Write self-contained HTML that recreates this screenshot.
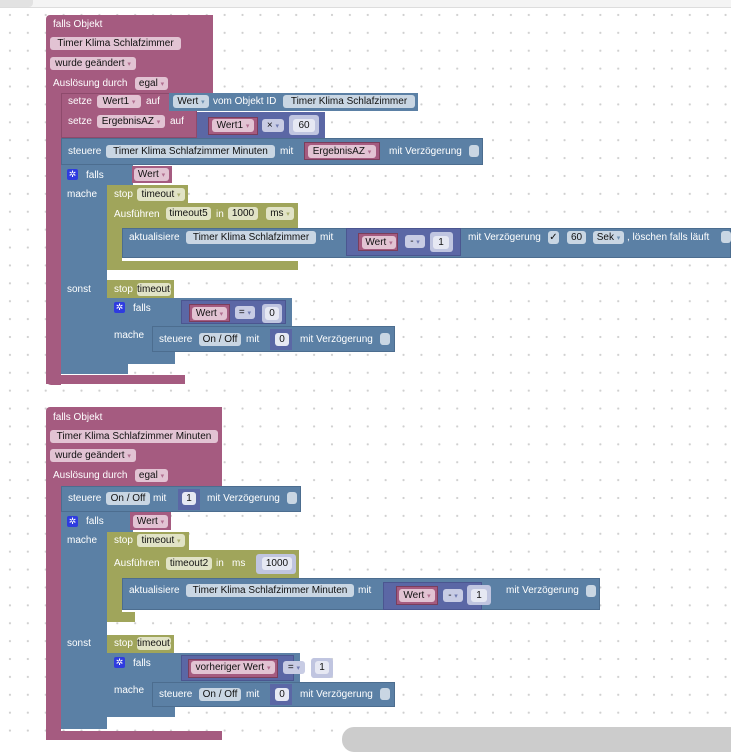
<!DOCTYPE html>
<html><head><meta charset="utf-8"><style>
body{margin:0;width:731px;height:745px;overflow:hidden;background:#fff;position:relative;font-family:"Liberation Sans",sans-serif}
#grid{position:absolute;left:0;top:8px;width:731px;height:737px;background-image:radial-gradient(circle,#cfcfcf 0.9px,transparent 1.3px);background-size:17.9px 17.9px;background-position:1px -2px}
.b{position:absolute}
.P{background:#a55b80}.B{background:#5b80a5}.G{background:#a0a55b}.M{background:#5b67a5}
.t{position:absolute;color:#fff;font-size:10px;line-height:13px;white-space:nowrap}
.f{position:absolute;border-radius:3px;height:13px;font-size:10px;line-height:13px;color:#111;padding:0 2px;white-space:nowrap;box-sizing:border-box;text-align:center}
.fp{background:#e2c3d3}.fb{background:#c9d6e3}.fg{background:#e1e3c6}.fm{background:#c8cce4}.fw{background:#e6e8f3}
.cb{position:absolute;width:10px;height:12px;border-radius:3px;background:#c9d6e3}
.gear{position:absolute;width:11px;height:11px;background:#2e3be0;border-radius:2px;color:#fff;font-size:9px;line-height:11px;text-align:center}
.dd{font-size:7px;opacity:.8}
</style></head><body>
<div id="grid"></div>
<div class="b" style="left:0;top:0;width:731px;height:7px;background:#f4f4f4;border-bottom:1px solid #ddd"></div>
<div class="b" style="left:0;top:0;width:33px;height:7px;background:#e2e2e2;border-radius:0 0 4px 0"></div>

<!-- BLOCK 1 -->
<div class="b P" style="left:46px;top:15px;width:167px;height:78px;border-radius:4px 0 0 0"></div>
<div class="b P" style="left:46px;top:90px;width:15px;height:295px;border-radius:0 0 0 5px"></div>
<div class="b P" style="left:46px;top:375px;width:139px;height:9px"></div>
<div class="t" style="left:53px;top:18px">falls Objekt</div>
<div class="f fp" style="left:50px;top:37px;width:131px">Timer Klima Schlafzimmer</div>
<div class="f fp" style="left:50px;top:57px;width:86px">wurde geändert <span class="dd" style="color:#a55b80">▾</span></div>
<div class="t" style="left:53px;top:77px">Auslösung durch</div>
<div class="f fp" style="left:135px;top:77px;width:33px">egal <span class="dd" style="color:#a55b80">▾</span></div>

<div class="b P" style="left:61px;top:93px;width:136px;height:45px;border:1px solid #8e4a6c;box-sizing:border-box"></div>
<div class="t" style="left:68px;top:95px">setze</div>
<div class="f fp" style="left:97px;top:95px;width:44px">Wert1 <span class="dd" style="color:#a55b80">▾</span></div>
<div class="t" style="left:146px;top:95px">auf</div>
<div class="b B" style="left:169px;top:93px;width:249px;height:18px"></div>
<div class="f fb" style="left:173px;top:95px;width:36px">Wert <span class="dd" style="color:#5b80a5">▾</span></div>
<div class="t" style="left:213px;top:95px">vom Objekt ID</div>
<div class="f fb" style="left:283px;top:95px;width:132px">Timer Klima Schlafzimmer</div>
<div class="t" style="left:68px;top:115px">setze</div>
<div class="f fp" style="left:97px;top:115px;width:68px">ErgebnisAZ <span class="dd" style="color:#a55b80">▾</span></div>
<div class="t" style="left:170px;top:115px">auf</div>
<div class="b M" style="left:197px;top:112px;width:128px;height:26px"></div>
<div class="b P" style="left:208px;top:117px;width:50px;height:18px;border:1px solid #7a3e5c;box-sizing:border-box"></div>
<div class="f fp" style="left:212px;top:119px;width:42px">Wert1 <span class="dd" style="color:#a55b80">▾</span></div>
<div class="f fm" style="left:262px;top:119px;width:22px">× <span class="dd" style="color:#5b67a5">▾</span></div>
<div class="b" style="left:289px;top:115px;width:30px;height:20px;background:#c0c5e0;border-radius:3px"></div>
<div class="f fw" style="left:293px;top:119px;width:22px">60</div>

<div class="b B" style="left:61px;top:138px;width:422px;height:27px;border:1px solid #4c6d8f;box-sizing:border-box"></div>
<div class="t" style="left:68px;top:145px">steuere</div>
<div class="f fb" style="left:106px;top:145px;width:169px">Timer Klima Schlafzimmer Minuten</div>
<div class="t" style="left:280px;top:145px">mit</div>
<div class="b P" style="left:304px;top:142px;width:76px;height:18px;border:1px solid #7a3e5c;box-sizing:border-box"></div>
<div class="f fp" style="left:308px;top:145px;width:68px">ErgebnisAZ <span class="dd" style="color:#a55b80">▾</span></div>
<div class="t" style="left:389px;top:145px">mit Verzögerung</div>
<div class="cb" style="left:469px;top:145px"></div>

<div class="b B" style="left:61px;top:165px;width:72px;height:20px"></div>
<div class="b B" style="left:61px;top:183px;width:46px;height:180px"></div>
<div class="b B" style="left:61px;top:358px;width:67px;height:16px"></div>
<div class="gear" style="left:67px;top:169px">✲</div>
<div class="t" style="left:86px;top:169px">falls</div>
<div class="b P" style="left:132px;top:166px;width:40px;height:17px"></div>
<div class="f fp" style="left:134px;top:168px;width:35px">Wert <span class="dd" style="color:#a55b80">▾</span></div>
<div class="t" style="left:67px;top:188px">mache</div>

<div class="b G" style="left:107px;top:185px;width:81px;height:18px"></div>
<div class="t" style="left:114px;top:188px">stop</div>
<div class="f fg" style="left:137px;top:188px;width:48px">timeout <span class="dd" style="color:#a0a55b">▾</span></div>
<div class="b G" style="left:107px;top:203px;width:191px;height:27px"></div>
<div class="b G" style="left:107px;top:228px;width:15px;height:40px"></div>
<div class="b G" style="left:107px;top:261px;width:191px;height:9px"></div>
<div class="t" style="left:114px;top:208px">Ausführen</div>
<div class="f fg" style="left:166px;top:207px;width:45px">timeout5</div>
<div class="t" style="left:216px;top:208px">in</div>
<div class="f fg" style="left:228px;top:207px;width:30px">1000</div>
<div class="f fg" style="left:266px;top:207px;width:28px">ms <span class="dd" style="color:#a0a55b">▾</span></div>
<div class="b B" style="left:122px;top:228px;width:609px;height:30px;border:1px solid #4c6d8f;box-sizing:border-box"></div>
<div class="t" style="left:129px;top:231px">aktualisiere</div>
<div class="f fb" style="left:186px;top:231px;width:130px">Timer Klima Schlafzimmer</div>
<div class="t" style="left:320px;top:231px">mit</div>
<div class="b M" style="left:346px;top:228px;width:115px;height:28px;border:1px solid #4b5690;box-sizing:border-box"></div>
<div class="b P" style="left:358px;top:233px;width:40px;height:18px;border:1px solid #7a3e5c;box-sizing:border-box"></div>
<div class="f fp" style="left:362px;top:236px;width:34px">Wert <span class="dd" style="color:#a55b80">▾</span></div>
<div class="f fm" style="left:405px;top:235px;width:20px">- <span class="dd" style="color:#5b67a5">▾</span></div>
<div class="b" style="left:430px;top:232px;width:23px;height:20px;background:#c0c5e0;border-radius:3px"></div>
<div class="f fw" style="left:433px;top:236px;width:16px">1</div>
<div class="t" style="left:468px;top:231px">mit Verzögerung</div>
<div class="f fb" style="left:548px;top:231px;width:11px;padding:0">✓</div>
<div class="f fb" style="left:567px;top:231px;width:19px">60</div>
<div class="f fb" style="left:593px;top:231px;width:31px">Sek <span class="dd" style="color:#5b80a5">▾</span></div>
<div class="t" style="left:627px;top:231px">, löschen falls läuft</div>
<div class="cb" style="left:721px;top:231px"></div>

<div class="t" style="left:67px;top:283px">sonst</div>
<div class="b G" style="left:107px;top:280px;width:67px;height:18px"></div>
<div class="t" style="left:114px;top:283px">stop</div>
<div class="f fg" style="left:137px;top:283px;width:34px;padding:0">timeout<span class="dd" style="color:#a0a55b">▾</span></div>
<div class="b B" style="left:107px;top:298px;width:185px;height:28px"></div>
<div class="b B" style="left:107px;top:324px;width:45px;height:34px"></div>
<div class="b B" style="left:107px;top:352px;width:68px;height:12px"></div>
<div class="gear" style="left:114px;top:302px">✲</div>
<div class="t" style="left:133px;top:302px">falls</div>
<div class="b M" style="left:181px;top:300px;width:105px;height:24px;border:1px solid #4b5690;box-sizing:border-box"></div>
<div class="b P" style="left:189px;top:304px;width:41px;height:18px;border:1px solid #7a3e5c;box-sizing:border-box"></div>
<div class="f fp" style="left:192px;top:307px;width:35px">Wert <span class="dd" style="color:#a55b80">▾</span></div>
<div class="f fm" style="left:235px;top:306px;width:20px">= <span class="dd" style="color:#5b67a5">▾</span></div>
<div class="b" style="left:262px;top:304px;width:20px;height:19px;background:#c0c5e0;border-radius:3px"></div>
<div class="f fw" style="left:265px;top:307px;width:14px">0</div>
<div class="t" style="left:114px;top:329px">mache</div>
<div class="b B" style="left:152px;top:326px;width:243px;height:26px;border:1px solid #4c6d8f;box-sizing:border-box"></div>
<div class="t" style="left:159px;top:333px">steuere</div>
<div class="f fb" style="left:199px;top:333px;width:42px">On / Off</div>
<div class="t" style="left:246px;top:333px">mit</div>
<div class="b M" style="left:270px;top:329px;width:22px;height:21px"></div>
<div class="f fw" style="left:275px;top:333px;width:14px">0</div>
<div class="t" style="left:300px;top:333px">mit Verzögerung</div>
<div class="cb" style="left:380px;top:333px"></div>

<!-- BLOCK 2 -->
<div class="b P" style="left:46px;top:407px;width:176px;height:80px;border-radius:4px 0 0 0"></div>
<div class="b P" style="left:46px;top:485px;width:15px;height:255px;border-radius:0 0 0 5px"></div>
<div class="b P" style="left:46px;top:731px;width:176px;height:9px"></div>
<div class="t" style="left:53px;top:411px">falls Objekt</div>
<div class="f fp" style="left:50px;top:430px;width:168px">Timer Klima Schlafzimmer Minuten</div>
<div class="f fp" style="left:50px;top:449px;width:86px">wurde geändert <span class="dd" style="color:#a55b80">▾</span></div>
<div class="t" style="left:53px;top:469px">Auslösung durch</div>
<div class="f fp" style="left:135px;top:469px;width:33px">egal <span class="dd" style="color:#a55b80">▾</span></div>

<div class="b B" style="left:61px;top:486px;width:240px;height:26px;border:1px solid #4c6d8f;box-sizing:border-box"></div>
<div class="t" style="left:68px;top:492px">steuere</div>
<div class="f fb" style="left:106px;top:492px;width:44px">On / Off</div>
<div class="t" style="left:153px;top:492px">mit</div>
<div class="b M" style="left:178px;top:489px;width:22px;height:21px"></div>
<div class="f fw" style="left:182px;top:492px;width:14px">1</div>
<div class="t" style="left:207px;top:492px">mit Verzögerung</div>
<div class="cb" style="left:287px;top:492px"></div>

<div class="b B" style="left:61px;top:512px;width:72px;height:20px"></div>
<div class="b B" style="left:61px;top:530px;width:46px;height:190px"></div>
<div class="b B" style="left:61px;top:716px;width:46px;height:13px"></div>
<div class="gear" style="left:67px;top:516px">✲</div>
<div class="t" style="left:86px;top:515px">falls</div>
<div class="b P" style="left:130px;top:512px;width:41px;height:18px"></div>
<div class="f fp" style="left:133px;top:515px;width:35px">Wert <span class="dd" style="color:#a55b80">▾</span></div>
<div class="t" style="left:67px;top:534px">mache</div>

<div class="b G" style="left:107px;top:532px;width:82px;height:18px"></div>
<div class="t" style="left:114px;top:534px">stop</div>
<div class="f fg" style="left:137px;top:534px;width:48px">timeout <span class="dd" style="color:#a0a55b">▾</span></div>
<div class="b G" style="left:107px;top:550px;width:192px;height:28px"></div>
<div class="b G" style="left:107px;top:576px;width:15px;height:40px"></div>
<div class="b G" style="left:107px;top:612px;width:28px;height:10px"></div>
<div class="t" style="left:114px;top:557px">Ausführen</div>
<div class="f fg" style="left:166px;top:557px;width:46px">timeout2</div>
<div class="t" style="left:216px;top:557px">in</div>
<div class="t" style="left:232px;top:557px">ms</div>
<div class="b" style="left:256px;top:554px;width:40px;height:20px;background:#c0c5e0;border-radius:3px"></div>
<div class="f fw" style="left:262px;top:557px;width:30px">1000</div>
<div class="b B" style="left:122px;top:578px;width:478px;height:32px;border:1px solid #4c6d8f;box-sizing:border-box"></div>
<div class="t" style="left:129px;top:584px">aktualisiere</div>
<div class="f fb" style="left:186px;top:584px;width:168px">Timer Klima Schlafzimmer Minuten</div>
<div class="t" style="left:358px;top:584px">mit</div>
<div class="b M" style="left:383px;top:582px;width:99px;height:28px;border:1px solid #4b5690;box-sizing:border-box"></div>
<div class="b P" style="left:396px;top:586px;width:42px;height:19px;border:1px solid #7a3e5c;box-sizing:border-box"></div>
<div class="f fp" style="left:399px;top:589px;width:36px">Wert <span class="dd" style="color:#a55b80">▾</span></div>
<div class="f fm" style="left:443px;top:589px;width:20px">- <span class="dd" style="color:#5b67a5">▾</span></div>
<div class="b" style="left:467px;top:585px;width:24px;height:20px;background:#c0c5e0;border-radius:3px"></div>
<div class="f fw" style="left:471px;top:589px;width:16px">1</div>
<div class="t" style="left:506px;top:584px">mit Verzögerung</div>
<div class="cb" style="left:586px;top:585px"></div>

<div class="t" style="left:67px;top:637px">sonst</div>
<div class="b G" style="left:107px;top:635px;width:67px;height:18px"></div>
<div class="t" style="left:114px;top:637px">stop</div>
<div class="f fg" style="left:137px;top:637px;width:34px;padding:0">timeout<span class="dd" style="color:#a0a55b">▾</span></div>
<div class="b B" style="left:107px;top:653px;width:193px;height:30px"></div>
<div class="b B" style="left:107px;top:681px;width:45px;height:36px"></div>
<div class="b B" style="left:107px;top:707px;width:68px;height:10px"></div>
<div class="gear" style="left:114px;top:657px">✲</div>
<div class="t" style="left:133px;top:657px">falls</div>
<div class="b M" style="left:181px;top:655px;width:113px;height:26px;border:1px solid #4b5690;box-sizing:border-box"></div>
<div class="b P" style="left:188px;top:659px;width:90px;height:19px;border:1px solid #7a3e5c;box-sizing:border-box"></div>
<div class="f fp" style="left:191px;top:661px;width:84px">vorheriger Wert <span class="dd" style="color:#a55b80">▾</span></div>
<div class="f fm" style="left:283px;top:661px;width:22px">= <span class="dd" style="color:#5b67a5">▾</span></div>
<div class="b" style="left:311px;top:658px;width:22px;height:20px;background:#c0c5e0;border-radius:3px"></div>
<div class="f fw" style="left:315px;top:661px;width:14px">1</div>
<div class="t" style="left:114px;top:684px">mache</div>
<div class="b B" style="left:152px;top:682px;width:243px;height:25px;border:1px solid #4c6d8f;box-sizing:border-box"></div>
<div class="t" style="left:159px;top:688px">steuere</div>
<div class="f fb" style="left:199px;top:688px;width:42px">On / Off</div>
<div class="t" style="left:246px;top:688px">mit</div>
<div class="b M" style="left:270px;top:684px;width:22px;height:21px"></div>
<div class="f fw" style="left:275px;top:688px;width:14px">0</div>
<div class="t" style="left:300px;top:688px">mit Verzögerung</div>
<div class="cb" style="left:380px;top:688px"></div>

<div class="b" style="left:342px;top:727px;width:400px;height:25px;background:#cccccc;border-radius:12px"></div>
</body></html>
